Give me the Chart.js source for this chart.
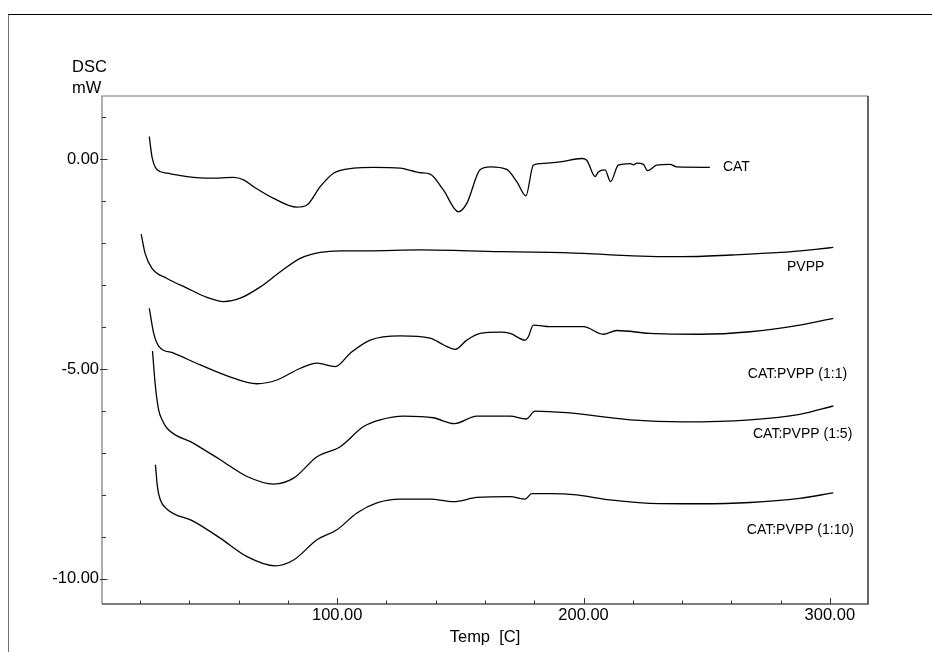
<!DOCTYPE html>
<html lang="en">

<head>
  <meta charset="UTF-8">
  <title>DSC</title>
  <script src="https://cdn.jsdelivr.net/npm/chart.js@4.4.1/dist/chart.umd.min.js"></script>
  <style>
    body { margin: 0; background: #fff; }
    .frame { position: absolute; left: 8px; top: 14px; width: 1000px; height: 700px;
             border-top: 1px solid #000; border-left: 1px solid #6e6e6e; }
    #dsc { position: absolute; left: 0; top: 0; }
  </style>
</head>

<body>
  <div class="frame"></div>
  <canvas id="dsc" width="932" height="652"></canvas>

  <script>
    // tick labels
    const xTicks = [100, 200, 300];
    const yTicks = [0, -5, -10];

    // series names
    const seriesNames = ['CAT', 'PVPP', 'CAT:PVPP (1:1)', 'CAT:PVPP (1:5)', 'CAT:PVPP (1:10)'];

    // CAT
    const catT = [23.7, 24.8, 26.9, 30.9, 39.0, 48.5, 57.9, 62.0, 66.0, 74.2, 83.6, 87.7, 93.1, 98.5, 106.6, 114.7,
      125.6, 133.7, 137.7, 143.1, 149.2, 152.6, 158.0, 162.1, 168.8, 172.9, 176.6, 179.6, 182.4, 190.5, 199.3, 201.3,
      204.7, 206.0, 208.7, 211.0, 214.1, 218.9, 220.3, 221.6, 224.3, 226.0, 229.7, 235.1, 237.8, 251.3];
    const catV = [0.54, 0.06, -0.25, -0.33, -0.41, -0.45, -0.43, -0.49, -0.65, -0.93, -1.14, -1.09, -0.65, -0.33, -0.21, -0.19,
      -0.21, -0.32, -0.35, -0.73, -1.25, -1.05, -0.25, -0.18, -0.24, -0.53, -0.87, -0.14, -0.10, -0.06, 0.02, -0.02,
      -0.41, -0.30, -0.25, -0.53, -0.14, -0.10, -0.13, -0.09, -0.12, -0.27, -0.14, -0.12, -0.18, -0.19];

    // PVPP
    const pvppT = [20.4, 22.0, 24.8, 30.9, 39.0, 47.1, 53.9, 60.6, 68.8, 76.9, 85.0, 93.1, 101.2, 112.0, 133.7, 166.1,
      180.0, 200.0, 220.0, 240.0, 260.0, 280.0, 295.0, 301.4];
    const pvppV = [-1.78, -2.24, -2.60, -2.84, -3.07, -3.29, -3.39, -3.31, -3.04, -2.68, -2.36, -2.22, -2.18, -2.18, -2.16, -2.20,
      -2.21, -2.24, -2.30, -2.32, -2.28, -2.22, -2.14, -2.10];

    // CAT:PVPP (1:1)
    const mix1T = [23.7, 25.5, 27.5, 33.6, 44.4, 55.3, 67.4, 75.5, 85.0, 91.8, 99.2, 105.3, 113.4, 125.6, 137.7, 143.1,
      147.9, 152.6, 158.0, 166.1, 170.2, 176.3, 177.6, 179.6, 186.4, 200.0, 208.0, 213.5, 227.0, 247.3, 267.6, 287.8, 301.4];
    const mix1V = [-3.55, -4.15, -4.45, -4.62, -4.90, -5.16, -5.35, -5.26, -4.98, -4.86, -4.94, -4.62, -4.31, -4.21, -4.26, -4.42,
      -4.53, -4.31, -4.15, -4.12, -4.15, -4.31, -4.23, -3.95, -3.99, -3.99, -4.17, -4.08, -4.15, -4.17, -4.11, -3.95, -3.79];

    // CAT:PVPP (1:5)
    const mix5T = [25.0, 26.2, 27.5, 28.9, 30.9, 41.7, 52.5, 63.4, 74.2, 82.3, 91.8, 101.2, 110.7, 117.4, 127.0, 139.0,
      147.5, 156.7, 170.2, 176.7, 180.3, 193.2, 218.9, 240.5, 267.6, 287.8, 301.4];
    const mix5V = [-4.57, -5.42, -5.97, -6.21, -6.41, -6.77, -7.16, -7.56, -7.74, -7.60, -7.09, -6.85, -6.37, -6.21, -6.12, -6.16,
      -6.30, -6.12, -6.12, -6.19, -6.00, -6.04, -6.21, -6.26, -6.21, -6.08, -5.88];

    // CAT:PVPP (1:10)
    const mix10T = [26.2, 27.0, 28.2, 30.9, 41.7, 52.5, 63.4, 74.8, 82.3, 91.8, 99.9, 108.0, 116.1, 125.6, 137.7, 147.2,
      156.7, 170.2, 176.3, 179.0, 186.4, 197.2, 210.7, 227.0, 247.3, 267.6, 287.8, 301.4];
    const mix10V = [-7.28, -7.80, -8.12, -8.34, -8.63, -9.03, -9.47, -9.69, -9.55, -9.07, -8.83, -8.43, -8.19, -8.10, -8.10, -8.16,
      -8.06, -8.04, -8.10, -7.97, -7.97, -8.00, -8.12, -8.20, -8.21, -8.18, -8.08, -7.95];

    // where each curve name sits (temp, mW)
    const nameT = [256.6, 282.6, 266.7, 268.8, 266.3];
    const nameV = [-0.18, -2.57, -5.115, -6.545, -8.85];

    const allT = [catT, pvppT, mix1T, mix5T, mix10T];
    const allV = [catV, pvppV, mix1V, mix5V, mix10V];

    const FONT = '"Liberation Sans", Arial, sans-serif';

    /* frame, inward ticks and free text */
    const dscDecor = {
      id: 'dscDecor',
      afterDraw(chart) {
        const ctx = chart.ctx;
        const a = chart.chartArea;
        const xs = chart.scales.x, ys = chart.scales.y;
        ctx.save();

        // plot box
        ctx.lineWidth = 1.2;
        ctx.strokeStyle = '#777';
        ctx.beginPath();
        ctx.moveTo(a.left, a.bottom); ctx.lineTo(a.left, a.top); ctx.lineTo(a.right, a.top);
        ctx.stroke();
        ctx.strokeStyle = '#000';
        ctx.beginPath();
        ctx.moveTo(a.right, a.top); ctx.lineTo(a.right, a.bottom); ctx.lineTo(a.left, a.bottom);
        ctx.stroke();

        // ticks
        ctx.strokeStyle = '#333';
        ctx.lineWidth = 1;
        ctx.beginPath();
        for (let t = 20; t <= 300; t += 20) {
          const px = Math.round(xs.getPixelForValue(t)) + 0.5;
          const len = xTicks.includes(t) ? 6 : 3.5;
          ctx.moveTo(px, a.bottom); ctx.lineTo(px, a.bottom - len);
        }
        for (let v = 1; v >= -10; v--) {
          const py = Math.round(ys.getPixelForValue(v)) + 0.5;
          const major = yTicks.includes(v);
          ctx.moveTo(a.left - (major ? 2 : 0), py); ctx.lineTo(a.left + (major ? 5.5 : 4), py);
        }
        ctx.stroke();

        // axis captions
        ctx.fillStyle = '#000';
        ctx.textBaseline = 'alphabetic';
        ctx.textAlign = 'left';
        ctx.font = '16.5px ' + FONT;
        ctx.fillText('DSC', 72, 72);
        ctx.fillText('mW', 72, 93);
        ctx.textAlign = 'center';
        ctx.fillText('Temp  [C]', (a.left + a.right) / 2, 642);

        // curve names
        ctx.textAlign = 'left';
        ctx.textBaseline = 'middle';
        ctx.font = '14px ' + FONT;
        seriesNames.forEach((n, i) => {
          ctx.fillText(n, xs.getPixelForValue(nameT[i]), ys.getPixelForValue(nameV[i]));
        });
        ctx.restore();
      }
    };

    const datasets = seriesNames.map((n, i) => ({
      label: n,
      data: allT[i].map((t, j) => ({ x: t, y: allV[i][j] })),
      borderColor: '#000',
      borderWidth: 1.3,
      pointRadius: 0,
      fill: false,
      cubicInterpolationMode: 'monotone'
    }));

    const config = {
      type: 'line',
      data: { datasets },
      options: {
        responsive: false,
        animation: false,
        devicePixelRatio: 1,
        layout: { padding: { left: 0, top: 96, right: 64, bottom: 0 } },
        plugins: { legend: { display: false }, tooltip: { enabled: false } },
        scales: {
          x: {
            type: 'linear',
            min: 4.5,
            max: 315.5,
            grid: { display: false, drawTicks: false },
            border: { display: false },
            afterBuildTicks: s => { s.ticks = xTicks.map(v => ({ value: v })); },
            afterFit: s => { s.height = 48; },
            ticks: {
              padding: 2,
              color: '#000',
              font: { family: FONT, size: 16.5 },
              maxRotation: 0,
              callback: v => v.toFixed(2)
            }
          },
          y: {
            type: 'linear',
            min: -10.6,
            max: 1.51,
            grid: { display: false, drawTicks: false },
            border: { display: false },
            afterBuildTicks: s => { s.ticks = yTicks.map(v => ({ value: v })); },
            afterFit: s => { s.width = 102; },
            ticks: {
              padding: 3,
              color: '#000',
              font: { family: FONT, size: 16.5 },
              callback: v => v.toFixed(2)
            }
          }
        }
      },
      plugins: [dscDecor]
    };

    new Chart(document.getElementById('dsc'), config);
  </script>
</body>

</html>
